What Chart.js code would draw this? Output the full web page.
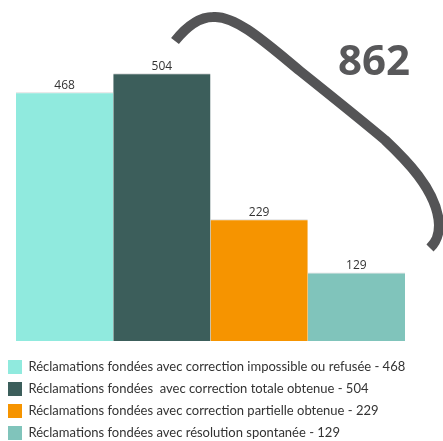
<!DOCTYPE html>
<html>
<head>
<meta charset="utf-8">
<script src="https://cdn.jsdelivr.net/npm/chart.js@4.4.1/dist/chart.umd.min.js"></script>
<style>
  html, body { margin: 0; padding: 0; background: #fff; }
  #wrap { position: relative; width: 443px; height: 441px; }
</style>
</head>
<body>
<div id="wrap"><canvas id="reclamChart"></canvas></div>
<script>
const categories = [
  "Réclamations fondées avec correction impossible ou refusée",
  "Réclamations fondées  avec correction totale obtenue",
  "Réclamations fondées avec correction partielle obtenue",
  "Réclamations fondées avec résolution spontanée",
];
const values = [468, 504, 229, 129];
const barColors = ["#90eade", "#3c5e5b", "#f69400", "#80c4bb"];

// the big figure sums the last three categories
const corrected = values.slice(1).reduce((a, b) => a + b, 0);

const valueLabels = {
  id: "valueLabels",
  afterDatasetsDraw(chart) {
    const ctx = chart.ctx;
    ctx.save();
    ctx.font = "12px 'Open Sans'";
    ctx.fillStyle = "#333";
    ctx.textAlign = "center";
    ctx.textBaseline = "alphabetic";
    chart.data.datasets.forEach((ds, i) => {
      const bar = chart.getDatasetMeta(i).data[0];
      ctx.fillText(String(ds.data[0]), bar.x, bar.y - 3);
    });
    ctx.restore();
  },
};

// swoosh over the last three bars with their total
const totalArc = {
  id: "totalArc",
  afterDatasetsDraw(chart) {
    const ctx = chart.ctx;
    ctx.save();
    ctx.strokeStyle = "#545456";
    ctx.lineWidth = 10;
    ctx.lineCap = "butt";
    ctx.lineJoin = "round";
    ctx.beginPath();
    ctx.moveTo(175, 41);
    ctx.bezierCurveTo(187, 26, 199, 17, 213, 17);
    ctx.bezierCurveTo(235, 15, 265, 42, 300, 71);
    ctx.bezierCurveTo(330, 95, 360, 119, 385, 140);
    ctx.bezierCurveTo(402, 156, 438, 190, 439, 225);
    ctx.bezierCurveTo(439, 236, 436, 242, 430, 248);
    ctx.stroke();

    ctx.font = "bold 42px 'Open Sans'";
    ctx.fillStyle = "#58585a";
    ctx.textAlign = "right";
    ctx.textBaseline = "alphabetic";
    ctx.fillText(String(corrected), 410, 75);
    ctx.restore();
  },
};

const datasets = categories.map((name, i) => ({
  label: name + " - " + values[i],
  data: [values[i]],
  backgroundColor: barColors[i],
  borderColor: "#d8d8d8",
  borderWidth: { top: 1, left: 0, right: 0, bottom: 0 },
  borderSkipped: false,
}));

new Chart(document.getElementById("reclamChart"), {
  type: "bar",
  data: { labels: [""], datasets: datasets },
  options: {
    responsive: true,
    maintainAspectRatio: false,
    animation: false,
    categoryPercentage: 0.924,
    barPercentage: 1,
    layout: { padding: { left: 0, right: 22, top: 20, bottom: -9 } },
    plugins: {
      tooltip: { enabled: false },
      legend: {
        position: "bottom",
        align: "start",
        labels: {
          boxWidth: 14,
          boxHeight: 14,
          padding: 8,
          color: "#333",
          font: { family: "Lato", size: 13 },
          generateLabels: (chart) =>
            chart.data.datasets.map((ds, i) => ({
              text: ds.label,
              fillStyle: ds.backgroundColor,
              strokeStyle: ds.backgroundColor,
              lineWidth: 0,
              fontColor: "#333",
              datasetIndex: i,
            })),
        },
      },
    },
    scales: {
      x: {
        display: true,
        ticks: { display: false },
        grid: { display: false },
        border: { display: false },
        // blank strip between the bars and the legend
        afterFit: (scale) => { scale.height = 11; },
      },
      y: { display: false, min: 0, max: 604, grid: { display: false } },
    },
  },
  plugins: [valueLabels, totalArc],
});
</script>
</body>
</html>
